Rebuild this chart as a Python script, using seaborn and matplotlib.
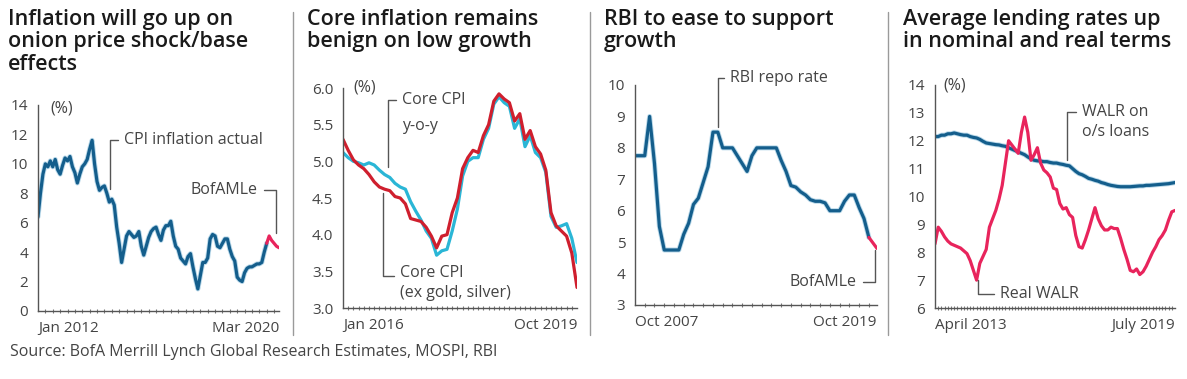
import numpy as np
import pandas as pd
import matplotlib
matplotlib.use("Agg")
import matplotlib.pyplot as plt
import matplotlib.patheffects as pe
from matplotlib.ticker import MultipleLocator
import seaborn as sns

# ---------------- data ----------------
# Panel 1: CPI inflation (%), monthly Jan 2012 .. Oct 2019, forecast to Mar 2020
cpi_actual = [6.4, 8.0, 9.3, 10.0, 9.8, 10.2, 9.8, 10.3, 9.6, 9.3, 9.9, 10.4,
              10.2, 10.5, 9.8, 9.4, 8.7, 9.3, 9.8, 10.0, 10.3, 11.0, 11.6, 10.0,
              8.8, 8.2, 8.4, 8.5, 8.0, 7.4, 7.6, 7.2, 5.7, 4.6, 3.3, 4.2,
              5.1, 5.4, 5.2, 5.0, 5.1, 5.4, 4.4, 3.8, 4.4, 5.0, 5.4, 5.6,
              5.7, 5.2, 4.8, 5.5, 5.8, 5.8, 6.1, 5.1, 4.4, 4.2, 3.6, 3.4,
              3.2, 3.7, 3.9, 3.0, 2.2, 1.5, 2.4, 3.3, 3.3, 3.6, 4.9, 5.2,
              5.1, 4.4, 4.3, 4.6, 4.9, 4.9, 4.2, 3.7, 3.4, 2.3, 2.1, 2.0,
              2.6, 2.9, 3.0, 3.0, 3.1, 3.2, 3.2, 3.3, 4.0, 4.6]
cpi_fcst = [4.6, 5.1, 4.8, 4.6, 4.4, 4.3]
p1_xlabels = ["Jan 2012", "Mar 2020"]
p1_yticks = [0, 2, 4, 6, 8, 10, 12, 14]

# Panel 2: core CPI (%), monthly Jan 2016 .. Oct 2019
core_cpi = [5.12, 5.05, 5.00, 4.98, 4.95, 4.98, 4.95, 4.88, 4.82, 4.78, 4.70, 4.65,
            4.62, 4.45, 4.32, 4.20, 4.05, 3.95, 3.72, 3.78, 3.80, 4.05, 4.35, 4.80,
            5.00, 5.05, 5.05, 5.30, 5.45, 5.78, 5.88, 5.80, 5.75, 5.45, 5.58, 5.20,
            5.35, 5.12, 5.05, 4.85, 4.25, 4.10, 4.12, 4.15, 3.95, 3.62]
core_ex_gold = [5.30, 5.15, 5.02, 4.95, 4.90, 4.82, 4.72, 4.65, 4.62, 4.60, 4.52, 4.50,
                4.42, 4.22, 4.20, 4.18, 4.10, 3.98, 3.82, 3.98, 4.00, 4.30, 4.50, 4.90,
                5.05, 5.15, 5.12, 5.35, 5.50, 5.82, 5.92, 5.85, 5.80, 5.55, 5.65, 5.30,
                5.42, 5.20, 5.10, 4.88, 4.30, 4.12, 4.05, 3.98, 3.75, 3.28]
p2_xlabels = ["Jan 2016", "Oct 2019"]
p2_yticks = [3.0, 3.5, 4.0, 4.5, 5.0, 5.5, 6.0]

# Panel 3: RBI repo rate (%), quarterly from Oct 2007 (month index)
repo_month = list(range(0, 145, 3))
repo_rate = [7.75, 7.75, 7.75, 9.0, 7.5, 5.5, 4.75, 4.75, 4.75, 4.75,
             5.25, 5.6, 6.2, 6.4, 6.9, 7.4, 8.5, 8.5, 8.0, 8.0,
             8.0, 7.75, 7.5, 7.25, 7.75, 8.0, 8.0, 8.0, 8.0, 8.0,
             7.6, 7.25, 6.8, 6.75, 6.6, 6.5, 6.35, 6.3, 6.3, 6.25,
             6.0, 6.0, 6.0, 6.3, 6.5, 6.5, 6.1, 5.75, 5.15]
repo_fcst_month = [144, 149]
repo_fcst = [5.15, 4.8]
p3_xlabels = ["Oct 2007", "Oct 2019"]
p3_yticks = [3, 4, 5, 6, 7, 8, 9, 10]

# Panel 4: lending rates (%), monthly Apr 2013 .. Jul 2019
walr = [12.15, 12.15, 12.2, 12.2, 12.25, 12.25, 12.28, 12.25, 12.22, 12.2, 12.2, 12.15,
        12.12, 12.1, 12.05, 11.98, 11.92, 11.9, 11.88, 11.86, 11.85, 11.82, 11.8, 11.75,
        11.7, 11.65, 11.6, 11.55, 11.5, 11.42, 11.35, 11.3, 11.28, 11.27, 11.25, 11.25,
        11.22, 11.2, 11.2, 11.17, 11.15, 11.12, 11.1, 11.0, 10.9, 10.82, 10.78, 10.72,
        10.65, 10.62, 10.58, 10.55, 10.5, 10.47, 10.43, 10.4, 10.38, 10.36, 10.35, 10.35,
        10.35, 10.35, 10.36, 10.37, 10.38, 10.38, 10.4, 10.4, 10.41, 10.42, 10.43, 10.44,
        10.45, 10.46, 10.48, 10.5]
real_walr = [8.3, 8.9, 8.75, 8.55, 8.4, 8.3, 8.25, 8.2, 8.15, 8.05, 7.95, 7.7,
             7.35, 7.0, 7.6, 7.85, 8.1, 8.9, 9.2, 9.5, 9.9, 10.4, 11.2, 12.0,
             11.85, 11.7, 11.55, 12.3, 12.85, 12.3, 11.3, 11.5, 11.75, 11.2, 10.95, 10.85,
             10.7, 10.3, 10.25, 9.75, 9.55, 9.6, 9.35, 9.25, 8.6, 8.2, 8.15, 8.45,
             8.8, 9.2, 9.6, 9.2, 8.95, 8.8, 8.8, 8.9, 8.85, 8.85, 8.5, 8.1,
             7.75, 7.35, 7.3, 7.4, 7.2, 7.3, 7.5, 7.75, 8.0, 8.2, 8.45, 8.6,
             8.8, 9.15, 9.45, 9.5]
p4_xlabels = ["April 2013", "July 2019"]
p4_yticks = [6, 7, 8, 9, 10, 11, 12, 13, 14]

titles = ["Inflation will go up on\nonion price shock/base\neffects",
          "Core inflation remains\nbenign on low growth",
          "RBI to ease to support\ngrowth",
          "Average lending rates up\nin nominal and real terms"]
source = "Source: BofA Merrill Lynch Global Research Estimates, MOSPI, RBI"

# ---------------- style ----------------
sns.set_theme(style="white")
plt.rcParams["font.family"] = ["Open Sans", "DejaVu Sans"]

BLUE = "#145e8c"
BLUE_HALO = "#8cc0dc"
PINK = "#e8245c"
RED = "#cf1f2e"
CYAN = "#2ab6d6"
TXT = "#444444"
AX = "#555555"
FS = 11.5
TFS = 11

W, H = 1187, 379
fig = plt.figure(figsize=(W / 100, H / 100), dpi=100)
fig.patch.set_facecolor("white")


def rect(l, r, top, bottom):
    return [l / W, 1 - bottom / H, (r - l) / W, (bottom - top) / H]


def style_axes(ax, xlim, ylim, yticks, xlabels, minor_step, yfmt):
    ax.set_xlim(*xlim)
    ax.set_ylim(*ylim)
    ax.set_xlabel("")
    ax.set_ylabel("")
    for s in ["top", "right"]:
        ax.spines[s].set_visible(False)
    for s in ["left", "bottom"]:
        ax.spines[s].set_color(AX)
        ax.spines[s].set_linewidth(1.0)
    ax.set_yticks(yticks)
    ax.set_yticklabels([yfmt.format(v) for v in yticks])
    ax.set_xticks([xlim[0], xlim[1]])
    labs = ax.set_xticklabels(xlabels)
    labs[0].set_ha("left")
    labs[1].set_ha("right")
    ax.xaxis.set_minor_locator(MultipleLocator(minor_step))
    ax.tick_params(axis="both", which="major", direction="out", length=4,
                   width=1, color=AX, labelsize=TFS, labelcolor=TXT, pad=3)
    ax.tick_params(axis="x", which="minor", direction="inout", length=3,
                   width=0.8, color="#777777", bottom=True)
    ax.tick_params(axis="x", which="major", pad=3)
    ax.set_facecolor("none")


halo = [pe.Stroke(linewidth=3.6, foreground=BLUE_HALO, alpha=0.6), pe.Normal()]
arr = dict(arrowstyle="-", color="#555555", lw=1.0, shrinkA=2, shrinkB=0)
elbow = "angle,angleA=0,angleB=90,rad=0"

# ----- Panel 1 -----
ax1 = fig.add_axes(rect(38, 279, 105, 311))
df1 = pd.DataFrame({"m": np.arange(len(cpi_actual)), "v": cpi_actual})
df1f = pd.DataFrame({"m": np.arange(len(cpi_fcst)) + len(cpi_actual) - 1, "v": cpi_fcst})
sns.lineplot(data=df1, x="m", y="v", ax=ax1, color=BLUE, lw=2.3, path_effects=halo)
sns.lineplot(data=df1f, x="m", y="v", ax=ax1, color=PINK, lw=2.3)
style_axes(ax1, (0, 98), (0, 14), p1_yticks, p1_xlabels, 3, "{:d}")
ax1.text(0.05, 0.985, "(%)", transform=ax1.transAxes, fontsize=FS, color=TXT, va="center")
ax1.annotate("CPI inflation actual", xy=(29.3, 8.3), xytext=(35.0, 11.6),
             fontsize=FS, color=TXT, ha="left", va="center",
             arrowprops=dict(arr, relpos=(0, 0.5), connectionstyle=elbow))
ax1.annotate("BofAMLe", xy=(96.7, 5.3), xytext=(89.4, 8.23),
             fontsize=FS, color=TXT, ha="right", va="center",
             arrowprops=dict(arr, relpos=(1, 0.5), connectionstyle=elbow))

# ----- Panel 2 -----
ax2 = fig.add_axes(rect(343, 577, 88, 308))
df2 = pd.DataFrame({"m": np.arange(len(core_cpi)), "core": core_cpi, "exg": core_ex_gold})
sns.lineplot(data=df2, x="m", y="core", ax=ax2, color=CYAN, lw=2.3)
sns.lineplot(data=df2, x="m", y="exg", ax=ax2, color=RED, lw=2.3)
style_axes(ax2, (0, 45), (3.0, 6.0), p2_yticks, p2_xlabels, 1, "{:.1f}")
ax2.text(0.043, 1.0, "(%)", transform=ax2.transAxes, fontsize=FS, color=TXT, va="center")
ax2.annotate("Core CPI", xy=(8.65, 4.92), xytext=(11.3, 5.84),
             fontsize=FS, color=TXT, ha="left", va="center",
             arrowprops=dict(arr, relpos=(0, 0.5), connectionstyle=elbow))
ax2.text(11.3, 5.48, "y-o-y", fontsize=FS, color=TXT, ha="left", va="center")
ax2.annotate("Core CPI", xy=(7.7, 4.57), xytext=(11.0, 3.48),
             fontsize=FS, color=TXT, ha="left", va="center",
             arrowprops=dict(arr, relpos=(0, 0.3), connectionstyle=elbow))
ax2.text(11.0, 3.2, "(ex gold, silver)", fontsize=FS, color=TXT, ha="left", va="center")

# ----- Panel 3 -----
ax3 = fig.add_axes(rect(635, 877, 85, 305))
df3 = pd.DataFrame({"m": repo_month, "v": repo_rate})
df3f = pd.DataFrame({"m": repo_fcst_month, "v": repo_fcst})
sns.lineplot(data=df3, x="m", y="v", ax=ax3, color=BLUE, lw=2.3, path_effects=halo)
sns.lineplot(data=df3f, x="m", y="v", ax=ax3, color=PINK, lw=2.3)
style_axes(ax3, (0, 149), (3, 10), p3_yticks, p3_xlabels, 6, "{:d}")
ax3.annotate("RBI repo rate", xy=(51, 8.67), xytext=(58.5, 10.23),
             fontsize=FS, color=TXT, ha="left", va="center", annotation_clip=False,
             arrowprops=dict(arr, relpos=(0, 0.5), connectionstyle=elbow))
ax3.annotate("BofAMLe", xy=(147.7, 4.75), xytext=(136.6, 3.73),
             fontsize=FS, color=TXT, ha="right", va="center",
             arrowprops=dict(arr, relpos=(1, 0.5), connectionstyle=elbow))

# ----- Panel 4 -----
ax4 = fig.add_axes(rect(935, 1175, 85, 308))
df4 = pd.DataFrame({"m": np.arange(len(walr)), "walr": walr, "real": real_walr})
sns.lineplot(data=df4, x="m", y="walr", ax=ax4, color=BLUE, lw=2.3, path_effects=halo)
sns.lineplot(data=df4, x="m", y="real", ax=ax4, color=PINK, lw=2.3)
style_axes(ax4, (0, 75), (6, 14), p4_yticks, p4_xlabels, 1, "{:d}")
ax4.text(0.033, 1.0, "(%)", transform=ax4.transAxes, fontsize=FS, color=TXT, va="center")
ax4.annotate("WALR on", xy=(41.25, 11.3), xytext=(45.9, 13.03),
             fontsize=FS, color=TXT, ha="left", va="center",
             arrowprops=dict(arr, relpos=(0, 0.5), connectionstyle=elbow))
ax4.text(45.9, 12.3, "o/s loans", fontsize=FS, color=TXT, ha="left", va="center")
ax4.annotate("Real WALR", xy=(13.4, 7.0), xytext=(20.3, 6.5),
             fontsize=FS, color=TXT, ha="left", va="center",
             arrowprops=dict(arr, relpos=(0, 0.5), connectionstyle=elbow))

# ----- titles, separators, source -----
title_x = [8, 307, 604, 903]
for tx, t in zip(title_x, titles):
    fig.text(tx / W, 1 - 9 / H, t, fontsize=15.5, fontweight="semibold", color="#1a1a1a",
             ha="left", va="top", linespacing=1.08)

for sx in [293, 590, 888]:
    fig.add_artist(plt.Line2D([sx / W, sx / W], [1 - 12 / H, 1 - 335 / H],
                              color="#9a9a9a", lw=1.0))

fig.text(10 / W, 1 - 352 / H, source, fontsize=FS, color="#444444", ha="left", va="center")

fig.savefig("out.png", dpi=100, facecolor="white")
